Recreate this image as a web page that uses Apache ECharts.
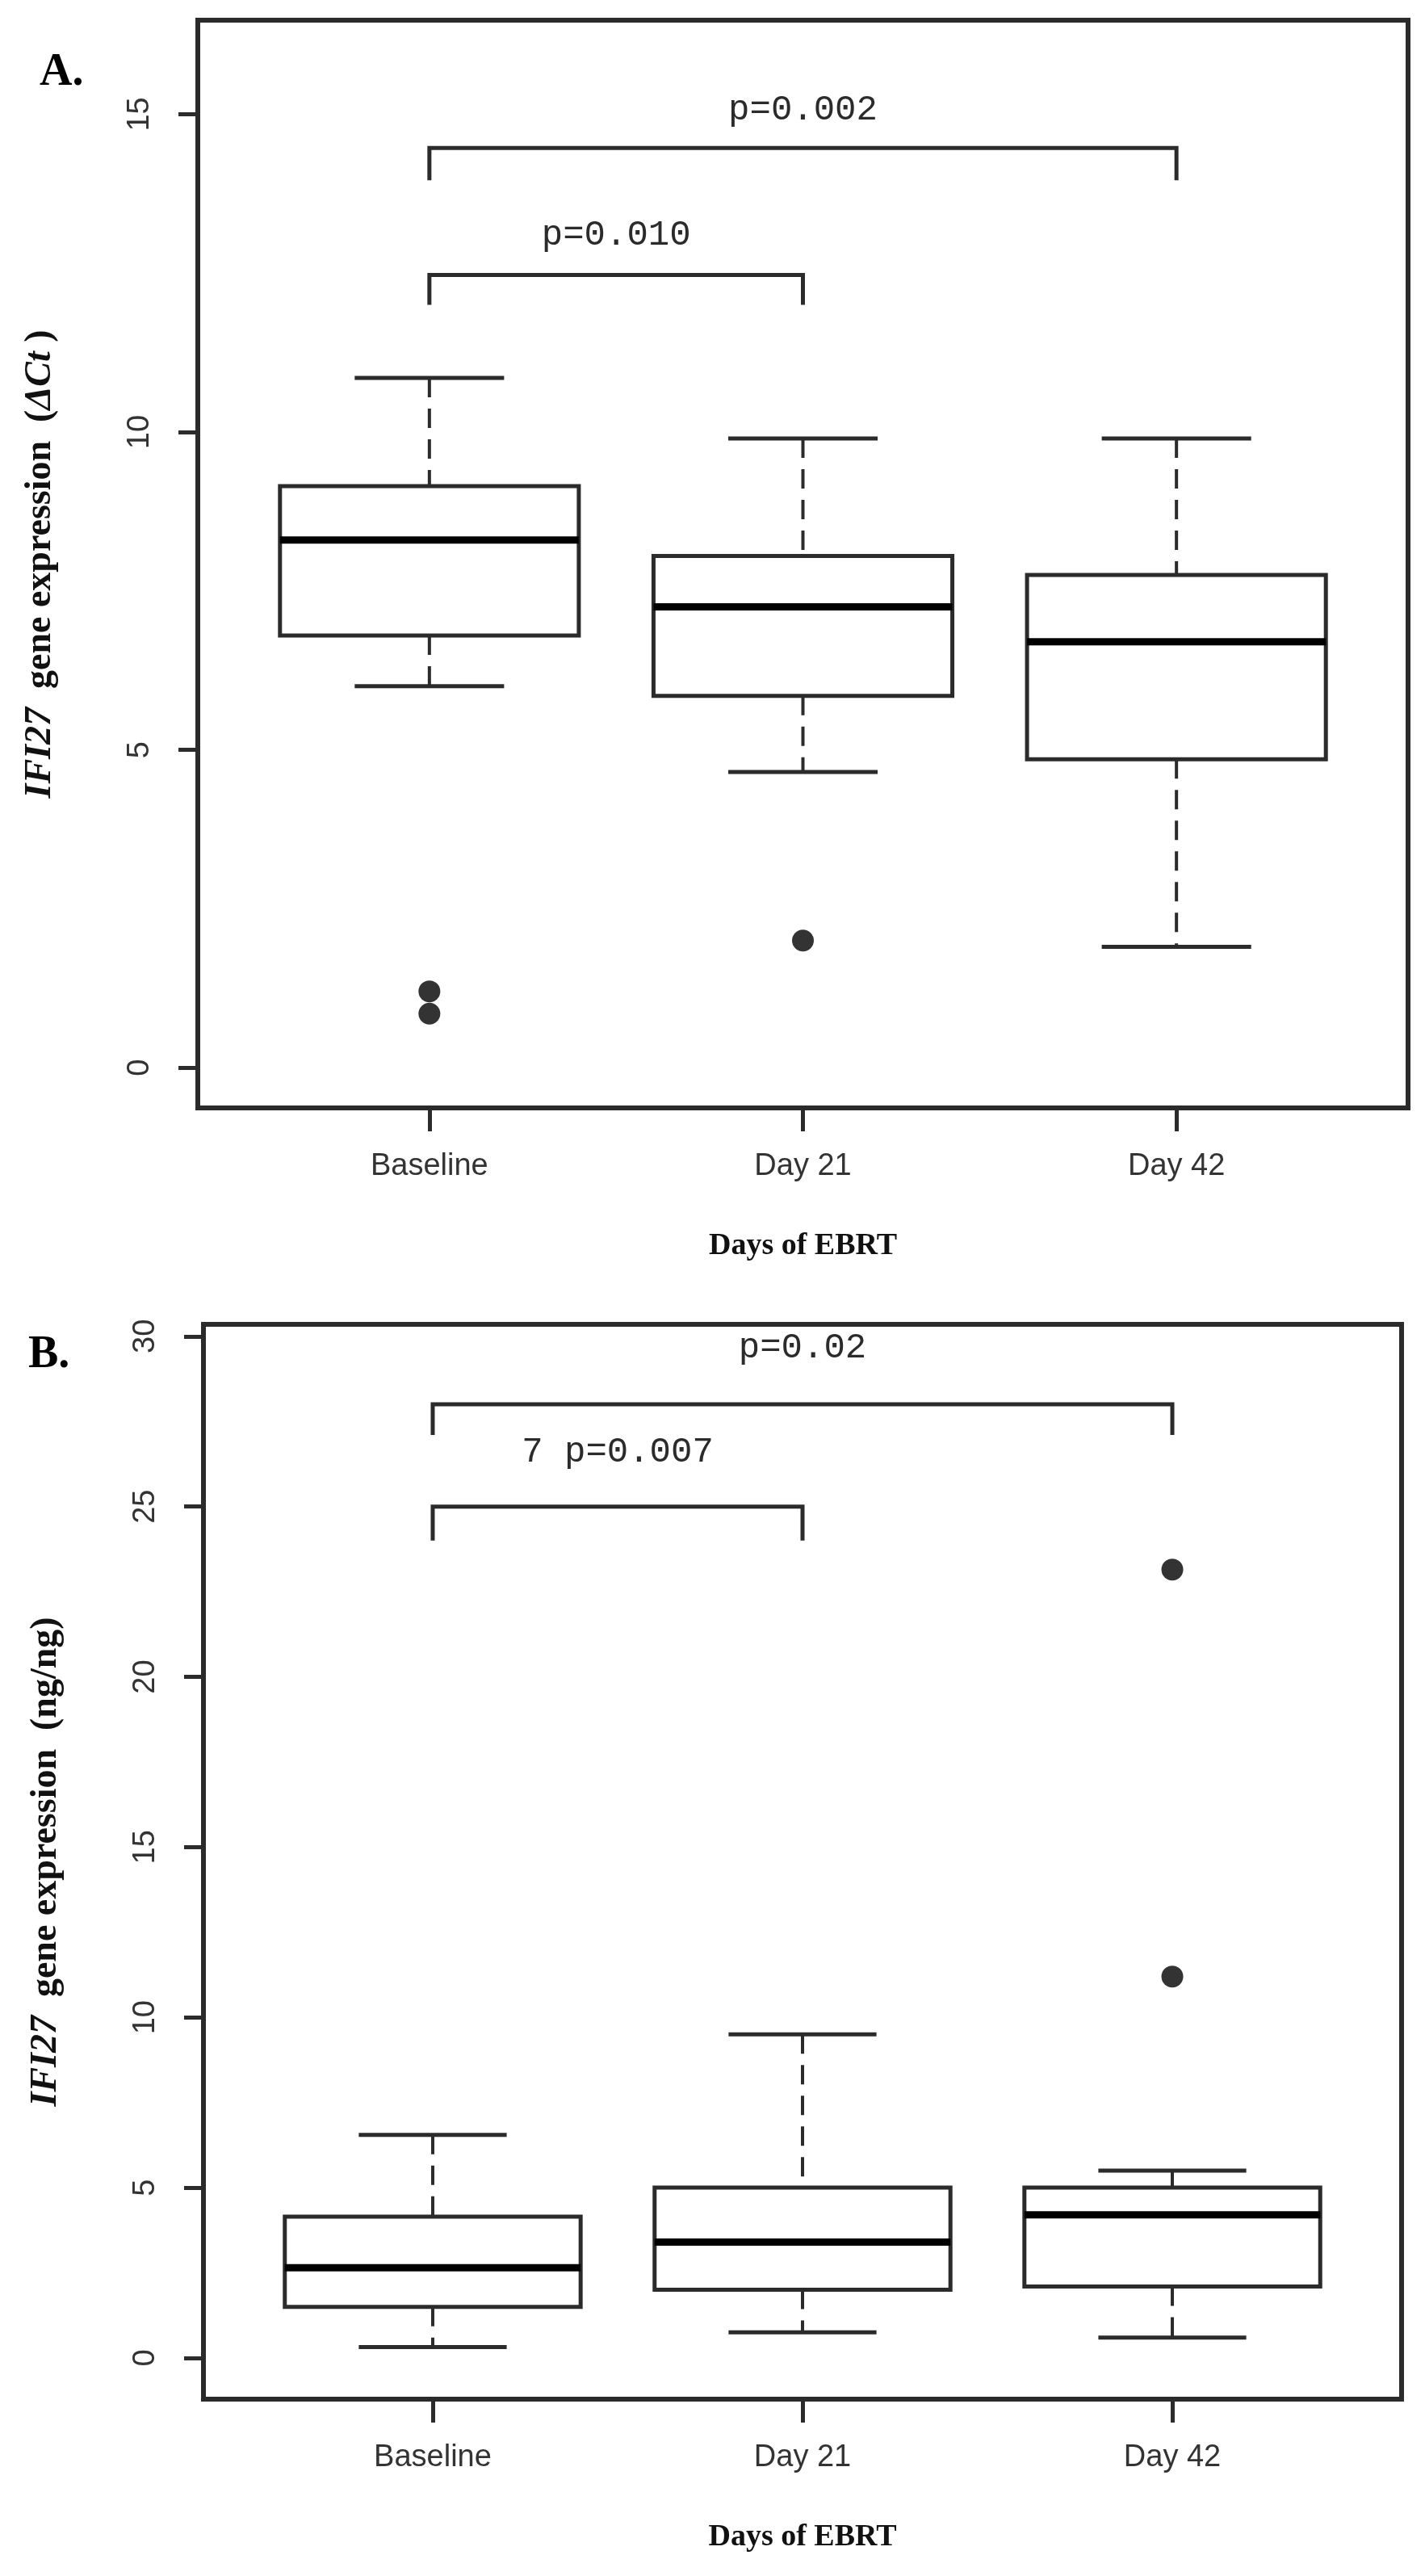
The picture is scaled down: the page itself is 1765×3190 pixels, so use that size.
<!DOCTYPE html>
<html>
<head>
<meta charset="utf-8">
<script src="https://cdn.jsdelivr.net/npm/echarts@6/dist/echarts.min.js"></script>
<style>
html,body{margin:0;padding:0;background:#fff;}
#chart{width:1765px;height:3190px;}
</style>
</head>
<body>
<div id="chart"></div>
<script>
// ---- data ----
const categories = ['Baseline', 'Day 21', 'Day 42'];
// [lower whisker, Q1, median, Q3, upper whisker]
const statsA = [[6.0, 6.8, 8.3, 9.15, 10.85], [4.65, 5.85, 7.25, 8.05, 9.9], [1.9, 4.85, 6.7, 7.75, 9.9]];
const outliersA = [[1, 1.2], [1, 0.85], [2, 2.0]];
const statsB = [[0.32, 1.5, 2.65, 4.15, 6.55], [0.75, 2.0, 3.4, 5.0, 9.5], [0.6, 2.1, 4.2, 5.0, 5.5]];
const outliersB = [[3, 23.15], [3, 11.2]];
const ticksA = [0, 5, 10, 15];
const ticksB = [0, 5, 10, 15, 20, 25, 30];
// [from, to, bar level, leg bottom, label level]
const bracketsA = [[1, 2, 12.47, 12.0, 13.1], [1, 3, 14.47, 13.96, 15.07]];
const bracketLabelsA = ['p=0.010', 'p=0.002'];
const bracketsB = [[1, 2, 25.0, 24.0, 26.6], [1, 3, 28.0, 27.1, 29.65]];
const bracketLabelsB = ['7 p=0.007', 'p=0.02'];

// ---- styles ----
const LINE = '#2b2b2b';
const sans = 'Liberation Sans, Arial, sans-serif';
const serif = 'Liberation Serif, Times New Roman, serif';
const mono = 'Liberation Mono, Courier New, monospace';

function boxRender(params, api) {
  const x = api.value(0);
  const lo = api.value(1), q1 = api.value(2), med = api.value(3), q3 = api.value(4), hi = api.value(5);
  const hw = 0.4, cw = 0.2;
  const c = (a, b) => api.coord([a, b]);
  const tl = c(x - hw, q3), br = c(x + hw, q1);
  const m1 = c(x - hw, med), m2 = c(x + hw, med);
  const top = c(x, hi), bot = c(x, lo);
  const ct1 = c(x - cw, hi), ct2 = c(x + cw, hi);
  const cb1 = c(x - cw, lo), cb2 = c(x + cw, lo);
  return {
    type: 'group',
    children: [
      {type: 'line', shape: {x1: top[0], y1: top[1], x2: top[0], y2: tl[1]}, style: {stroke: LINE, lineWidth: 4, lineDash: [24, 14]}},
      {type: 'line', shape: {x1: bot[0], y1: br[1], x2: bot[0], y2: bot[1]}, style: {stroke: LINE, lineWidth: 4, lineDash: [24, 14]}},
      {type: 'line', shape: {x1: ct1[0], y1: ct1[1], x2: ct2[0], y2: ct2[1]}, style: {stroke: LINE, lineWidth: 5}},
      {type: 'line', shape: {x1: cb1[0], y1: cb1[1], x2: cb2[0], y2: cb2[1]}, style: {stroke: LINE, lineWidth: 5}},
      {type: 'rect', shape: {x: tl[0], y: tl[1], width: br[0] - tl[0], height: br[1] - tl[1]}, style: {fill: '#fff', stroke: LINE, lineWidth: 5}},
      {type: 'line', shape: {x1: m1[0], y1: m1[1], x2: m2[0], y2: m2[1]}, style: {stroke: '#000', lineWidth: 9}}
    ]
  };
}

function bracketRender(labels) {
  return function (params, api) {
    const f = api.value(0), t = api.value(1), y = api.value(2), leg = api.value(3), ly = api.value(4);
    const a = api.coord([f, leg]), b = api.coord([f, y]), cc = api.coord([t, y]), d = api.coord([t, leg]);
    const lp = api.coord([(f + t) / 2, ly]);
    return {
      type: 'group',
      children: [
        {type: 'polyline', shape: {points: [a, b, cc, d]}, style: {stroke: LINE, lineWidth: 5, fill: null}},
        {type: 'text', style: {text: labels[params.dataIndex], x: lp[0], y: lp[1], align: 'center', verticalAlign: 'middle', font: '44px ' + mono, fill: '#2b2b2b'}}
      ]
    };
  };
}

function xAxisDef(gridIndex, min, max) {
  return {
    type: 'value', gridIndex, min, max,
    axisLine: {show: false, onZero: false},
    splitLine: {show: false},
    axisTick: {show: true, customValues: [1, 2, 3], length: 29, lineStyle: {color: LINE, width: 5}},
    axisLabel: {show: true, customValues: [1, 2, 3], margin: 54, formatter: v => categories[Math.round(v) - 1] || '', fontFamily: sans, fontSize: 38, color: '#333'},
    name: 'Days of EBRT', nameLocation: 'middle', nameGap: 152,
    nameTextStyle: {fontFamily: serif, fontWeight: 'bold', fontSize: 38, color: '#111'}
  };
}

function yAxisDef(gridIndex, min, max, ticks, unitRich) {
  return {
    type: 'value', gridIndex, min, max,
    axisLine: {show: false, onZero: false},
    splitLine: {show: false},
    axisTick: {show: true, customValues: ticks, length: 24, lineStyle: {color: LINE, width: 5}},
    axisLabel: {show: true, customValues: ticks, rotate: 90, margin: 52, fontFamily: sans, fontSize: 38, color: '#333'},
    name: unitRich, nameLocation: 'middle', nameRotate: 90, nameGap: 172,
    nameTextStyle: {
      fontFamily: serif, fontWeight: 'bold', fontSize: 46, color: '#111',
      rich: {
        bi: {fontFamily: serif, fontWeight: 'bold', fontStyle: 'italic', fontSize: 46, color: '#111'},
        b: {fontFamily: serif, fontWeight: 'bold', fontSize: 46, color: '#111'},
        i: {fontFamily: serif, fontWeight: 'bold', fontStyle: 'italic', fontSize: 46, color: '#111'}
      }
    }
  };
}

const chart = echarts.init(document.getElementById('chart'), null, {renderer: 'canvas'});
const option = {
  backgroundColor: '#fff',
  animation: false,
  title: [
    {text: 'A.', left: 44, top: 58, textStyle: {fontFamily: serif, fontWeight: 'bold', fontSize: 56, color: '#000'}},
    {text: 'B.', left: 30, top: 1646, textStyle: {fontFamily: serif, fontWeight: 'bold', fontSize: 56, color: '#000'}}
  ],
  grid: [
    {left: 245, top: 25, width: 1499, height: 1347, show: true, borderColor: LINE, borderWidth: 6, backgroundColor: 'transparent'},
    {left: 252, top: 1640, width: 1484, height: 1331, show: true, borderColor: LINE, borderWidth: 6, backgroundColor: 'transparent'}
  ],
  xAxis: [xAxisDef(0, 0.38, 3.62), xAxisDef(1, 0.38, 3.62)],
  yAxis: [
    yAxisDef(0, -0.634, 16.48, ticksA, '{bi|IFI27}{b|  gene expression  (}{i|ΔCt}{b| )}'),
    yAxisDef(1, -1.21, 30.35, ticksB, '{bi|IFI27}{b|  gene expression  (ng/ng)}')
  ],
  series: [
    {type: 'custom', xAxisIndex: 0, yAxisIndex: 0, renderItem: boxRender, data: statsA.map((s, i) => [i + 1].concat(s)), encode: {x: 0, y: [1, 5]}, silent: true},
    {type: 'scatter', xAxisIndex: 0, yAxisIndex: 0, data: outliersA, symbolSize: 27, itemStyle: {color: '#000'}, silent: true},
    {type: 'custom', xAxisIndex: 0, yAxisIndex: 0, renderItem: bracketRender(bracketLabelsA), data: bracketsA, encode: {x: [0, 1], y: [2, 4]}, silent: true},
    {type: 'custom', xAxisIndex: 1, yAxisIndex: 1, renderItem: boxRender, data: statsB.map((s, i) => [i + 1].concat(s)), encode: {x: 0, y: [1, 5]}, silent: true},
    {type: 'scatter', xAxisIndex: 1, yAxisIndex: 1, data: outliersB, symbolSize: 27, itemStyle: {color: '#000'}, silent: true},
    {type: 'custom', xAxisIndex: 1, yAxisIndex: 1, renderItem: bracketRender(bracketLabelsB), data: bracketsB, encode: {x: [0, 1], y: [2, 4]}, silent: true}
  ]
};
chart.setOption(option);
</script>
</body>
</html>
